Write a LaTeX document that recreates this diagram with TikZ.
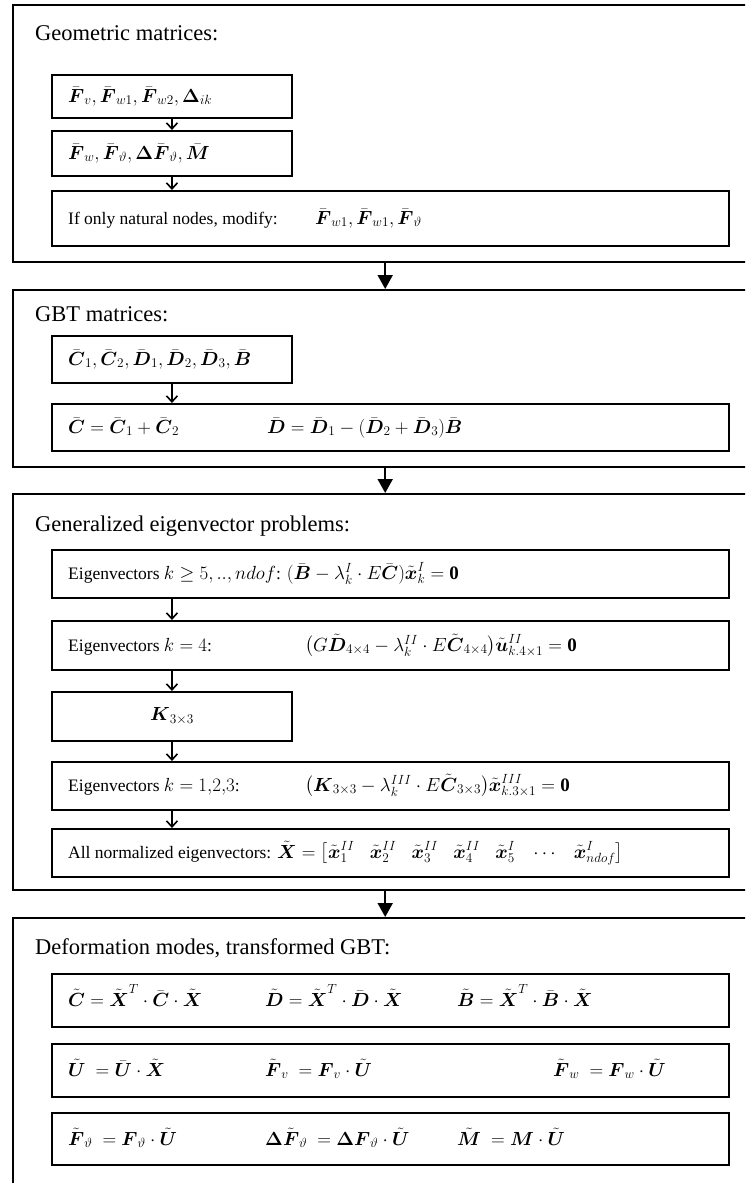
\RequirePackage{fix-cm}
\documentclass[tikz,border=0pt]{standalone}
\usepackage{amsmath}
\usepackage{fontspec}
\setmainfont{Liberation Serif}
\usetikzlibrary{arrows.meta}
% bold matrix symbols with bar / tilde accents
\newcommand{\barb}[1]{\bar{\boldsymbol{#1}}}
\newcommand{\tilb}[1]{\tilde{\boldsymbol{#1}}}
\newcommand{\bfm}[1]{\boldsymbol{#1}}
% formulas are set a little larger than the running text
\newcommand{\mth}[1]{{\fontsize{19}{23}\selectfont$#1$}}
\newcommand{\colsep}{\hspace{0.8em}}

\begin{document}
\begin{tikzpicture}[x=1pt,y=-1pt,
  stage/.style={draw, line width=2.4pt, anchor=north west, minimum width=744pt, inner sep=0pt},
  stepbox/.style={draw, line width=1.9pt, anchor=north west, inner sep=0pt},
  narrow/.style={stepbox, minimum width=240pt},
  wide/.style={stepbox, minimum width=677pt},
  title/.style={anchor=base west, inner sep=0pt, font=\fontsize{22.5}{27}\selectfont},
  txt/.style={anchor=base west, inner sep=0pt, font=\fontsize{17.5}{21}\selectfont},
  inarrow/.style={line width=1.6pt, -{Straight Barb[length=6pt,width=11pt,line width=1.6pt]}},
  outarrow/.style={line width=1.8pt, -{Triangle[length=14pt,width=15pt]}}
]
\useasboundingbox (0,0) rectangle (745,1183);
\clip (0,0) rectangle (745,1183);

% ---------- stage frames ----------
\node[stage, minimum height=257pt] (S1) at (12,4) {};
\node[stage, minimum height=177pt] (S2) at (12,289) {};
\node[stage, minimum height=396pt] (S3) at (12,493) {};
\node[stage, minimum height=300pt] (S4) at (12,917) {};

\draw[outarrow] (S1.south) -- (S2.north);
\draw[outarrow] (S2.south) -- (S3.north);
\draw[outarrow] (S3.south) -- (S4.north);

% ---------- geometric matrices ----------
\node[title] (T1) at (35,40) {Geometric matrices:};
\node[narrow, minimum height=43pt] (A) at (51,74) {};
\node[narrow, minimum height=45pt] (B) at (51,130) {};
\node[wide, minimum height=55pt] (C) at (51,190) {};
\node[txt] (Atx) at (68,102) {\mth{\barb{F}_{v}, \barb{F}_{w1}, \barb{F}_{w2}, \bfm{\Delta}_{ik}}};
\node[txt] (Btx) at (68,159) {\mth{\barb{F}_{w}, \barb{F}_{\vartheta}, \bfm{\Delta}\barb{F}_{\vartheta}, \barb{M}}};
\node[txt] (Ctx) at (68,224) {If only natural nodes, modify:};
\node[txt] (Cmx) at (315,224) {\mth{\barb{F}_{w1}, \barb{F}_{w1}, \barb{F}_{\vartheta}}};
\draw[inarrow] (A.south) -- (B.north);
\draw[inarrow] (B.south) -- (B.south |- C.north);

% ---------- GBT matrices ----------
\node[title] (T2) at (35,321) {GBT matrices:};
\node[narrow, minimum height=47pt] (D) at (51,335) {};
\node[wide, minimum height=47pt] (E) at (51,403) {};
\node[txt] (Dtx) at (68,365) {\mth{\barb{C}_1, \barb{C}_2, \barb{D}_1, \barb{D}_2, \barb{D}_3, \barb{B}}};
\node[txt] (Etx) at (68,433) {\mth{\barb{C} = \barb{C}_1 + \barb{C}_2}};
\node[txt] (Emx) at (267,433) {\mth{\barb{D} = \barb{D}_1 - (\barb{D}_2 + \barb{D}_3)\barb{B}}};
\draw[inarrow] (D.south) -- (D.south |- E.north);

% ---------- eigenvector problems ----------
\node[title] (T3) at (35,531) {Generalized eigenvector problems:};
\node[wide, minimum height=48pt] (F) at (51,549) {};
\node[wide, minimum height=49pt] (G) at (51,620) {};
\node[narrow, minimum height=49pt] (H) at (51,691) {};
\node[wide, minimum height=48pt] (I) at (51,761) {};
\node[wide, minimum height=48pt] (J) at (51,828) {};
\node[txt] (Ftx) at (68,579) {Eigenvectors \mth{k \geq 5,..,ndof}: \mth{(\barb{B} - \lambda_k^{I}\cdot E\barb{C})\tilb{x}_k^{I} = \mathbf{0}}};
\node[txt] (Gtx) at (68,651) {Eigenvectors \mth{k = 4}:};
\node[txt] (Gmx) at (305,651) {\mth{\bigl(G\tilb{D}_{4\times4} - \lambda_k^{II}\cdot E\tilb{C}_{4\times4}\bigr)\tilb{u}_{k.4\times1}^{II} = \mathbf{0}}};
\node[txt, anchor=center] (Htx) at (H.center) {\mth{\bfm{K}_{3\times3}}};
\node[txt] (Itx) at (68,791) {Eigenvectors \mth{k = 1{,}2{,}3}:};
\node[txt] (Imx) at (305,791) {\mth{\bigl(\bfm{K}_{3\times3} - \lambda_k^{III}\cdot E\tilb{C}_{3\times3}\bigr)\tilb{x}_{k.3\times1}^{III} = \mathbf{0}}};
\node[txt] (Jtx) at (68,858) {All normalized eigenvectors: \mth{\tilb{X} = \bigl[\tilb{x}_1^{II}\colsep \tilb{x}_2^{II}\colsep \tilb{x}_3^{II}\colsep \tilb{x}_4^{II}\colsep \tilb{x}_5^{I}\colsep \cdots\colsep \tilb{x}_{ndof}^{I}\bigr]}};
\draw[inarrow] (F.south -| H.north) -- (G.north -| H.north);
\draw[inarrow] (G.south -| H.north) -- (H.north);
\draw[inarrow] (H.south) -- (I.north -| H.south);
\draw[inarrow] (I.south -| H.south) -- (J.north -| H.south);

% ---------- transformed GBT ----------
\node[title] (T4) at (35,954) {Deformation modes, transformed GBT:};
\node[wide, minimum height=53pt] (K) at (51,973) {};
\node[wide, minimum height=53pt] (L) at (51,1043) {};
\node[wide, minimum height=52pt] (M) at (51,1112) {};
\node[txt] (K1) at (68,1006) {\mth{\tilb{C} = \tilb{X}^{T}\cdot\barb{C}\cdot\tilb{X}}};
\node[txt] (K2) at (265,1006) {\mth{\tilb{D} = \tilb{X}^{T}\cdot\barb{D}\cdot\tilb{X}}};
\node[txt] (K3) at (457,1006) {\mth{\tilb{B} = \tilb{X}^{T}\cdot\barb{B}\cdot\tilb{X}}};
\node[txt] (L1) at (68,1076) {\mth{\tilb{U}\ = \barb{U}\cdot\tilb{X}}};
\node[txt] (L2) at (265,1076) {\mth{\tilb{F}_{v}\ = \bfm{F}_{v}\cdot\tilb{U}}};
\node[txt] (L3) at (553,1076) {\mth{\tilb{F}_{w}\ = \bfm{F}_{w}\cdot\tilb{U}}};
\node[txt] (M1) at (68,1145) {\mth{\tilb{F}_{\vartheta}\ = \bfm{F}_{\vartheta}\cdot\tilb{U}}};
\node[txt] (M2) at (265,1145) {\mth{\bfm{\Delta}\tilb{F}_{\vartheta}\ = \bfm{\Delta}\bfm{F}_{\vartheta}\cdot\tilb{U}}};
\node[txt] (M3) at (457,1145) {\mth{\tilb{M}\ = \bfm{M}\cdot\tilb{U}}};
\end{tikzpicture}
\end{document}
